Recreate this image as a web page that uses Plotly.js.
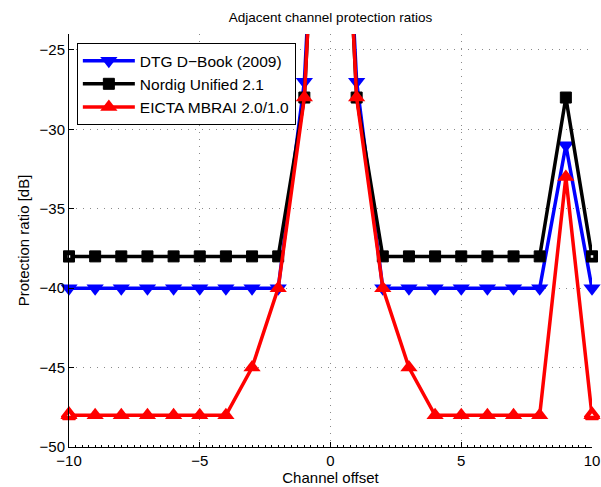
<!DOCTYPE html>
<html><head><meta charset="utf-8">
<script src="https://cdn.plot.ly/plotly-3.0.1.min.js"></script>
<style>html,body{margin:0;padding:0;background:#fff}#chart{width:601px;height:487px}</style>
</head><body><div id="chart"></div>
<script>
const channelOffset = [-10,-9,-8,-7,-6,-5,-4,-3,-2,-1,0,1,2,3,4,5,6,7,8,9,10];
const dtgDBook   = [-40,-40,-40,-40,-40,-40,-40,-40,-40,-27,5,-27,-40,-40,-40,-40,-40,-40,-40,-31,-40];
const nordig21   = [-38,-38,-38,-38,-38,-38,-38,-38,-38,-28,5,-28,-38,-38,-38,-38,-38,-38,-38,-28,-38];
const eictaMbrai = [-48,-48,-48,-48,-48,-48,-48,-45,-40,-28,5,-28,-40,-45,-48,-48,-48,-48,-48,-33,-48];
const seriesNames = ['DTG D\u2212Book (2009)','Nordig Unified 2.1','EICTA MBRAI 2.0/1.0'];
const xTicks = [-10,-5,0,5,10];
const xTickText = ['\u221210','\u22125','0','5','10'];
const yTicks = [-50,-45,-40,-35,-30,-25];
const yTickText = ['\u221250','\u221245','\u221240','\u221235','\u221230','\u221225'];

const font = 'Liberation Sans, Arial, sans-serif';
const edgeIdx = channelOffset.map((x,i)=>i).filter(i=>Math.abs(channelOffset[i])===10);
const pick = (arr)=>edgeIdx.map(i=>arr[i]);
const traces = [
  {x: channelOffset, y: dtgDBook, name: seriesNames[0], mode:'lines+markers', cliponaxis:false,
   line:{color:'#0000ff', width:3.5},
   marker:{symbol:'triangle-down', size:15, color:'#0000ff', line:{width:0}}},
  {x: channelOffset, y: nordig21, name: seriesNames[1], mode:'lines+markers', cliponaxis:false,
   line:{color:'#000000', width:3.5},
   marker:{symbol:'square', size:11, color:'#000000', line:{color:'#000000', width:1}}},
  {x: channelOffset, y: eictaMbrai, name: seriesNames[2], mode:'lines+markers', cliponaxis:false,
   line:{color:'#ff0000', width:3.5},
   marker:{symbol:'triangle-up', size:15, color:'#ff0000', line:{width:0}}},
  {x: pick(channelOffset), y: pick(nordig21), mode:'markers', showlegend:false, cliponaxis:false, hoverinfo:'skip',
   marker:{symbol:'square', size:7, color:'#ffffff', line:{color:'#000000', width:4.5}}},
  {x: pick(channelOffset), y: pick(eictaMbrai), mode:'markers', showlegend:false, cliponaxis:false, hoverinfo:'skip',
   marker:{symbol:'triangle-up', size:11, color:'#ffffff', line:{color:'#ff0000', width:4.5}}}
];
const grid = {showgrid:true, gridcolor:'#8a8a8a', griddash:'1px,6px', gridwidth:1};
const layout = {
  width:601, height:487,
  margin:{l:69, r:9, t:34, b:40},
  paper_bgcolor:'#fff', plot_bgcolor:'#fff',
  font:{family:font, size:15, color:'#000'},
  title:{text:'Adjacent channel protection ratios', font:{family:font, size:13.5, color:'#000'}, x:0.5, xref:'paper', y:0.965, yanchor:'middle'},
  showlegend:true,
  legend:{x:0.015, y:0.978, xanchor:'left', yanchor:'top', bgcolor:'#fff', bordercolor:'#000', borderwidth:1,
          font:{family:font, size:15.5, color:'#000'}, tracegroupgap:0, itemwidth:52},
  xaxis:Object.assign({range:[-10,10], tickmode:'array', tickvals:xTicks, ticktext:xTickText,
         ticks:'inside', ticklen:5, tickcolor:'#000', showline:true, linecolor:'#000', linewidth:1,
         zeroline:false, mirror:false,
         minor:{dtick:0.25, ticks:'inside', ticklen:2, tickcolor:'#000', showgrid:false},
         title:{text:'Channel offset', font:{family:font, size:15, color:'#000'}, standoff:3},
         tickfont:{family:font, size:15, color:'#000'}}, grid),
  yaxis:Object.assign({range:[-50,-24], tickmode:'array', tickvals:yTicks, ticktext:yTickText,
         ticks:'inside', ticklen:5, tickcolor:'#000', showline:true, linecolor:'#000', linewidth:1,
         zeroline:false, mirror:false,
         title:{text:'Protection ratio [dB]', font:{family:font, size:15, color:'#000'}, standoff:6},
         tickfont:{family:font, size:15, color:'#000'}}, grid)
};
Plotly.newPlot('chart', traces, layout, {displayModeBar:false, staticPlot:true});
</script></body></html>
